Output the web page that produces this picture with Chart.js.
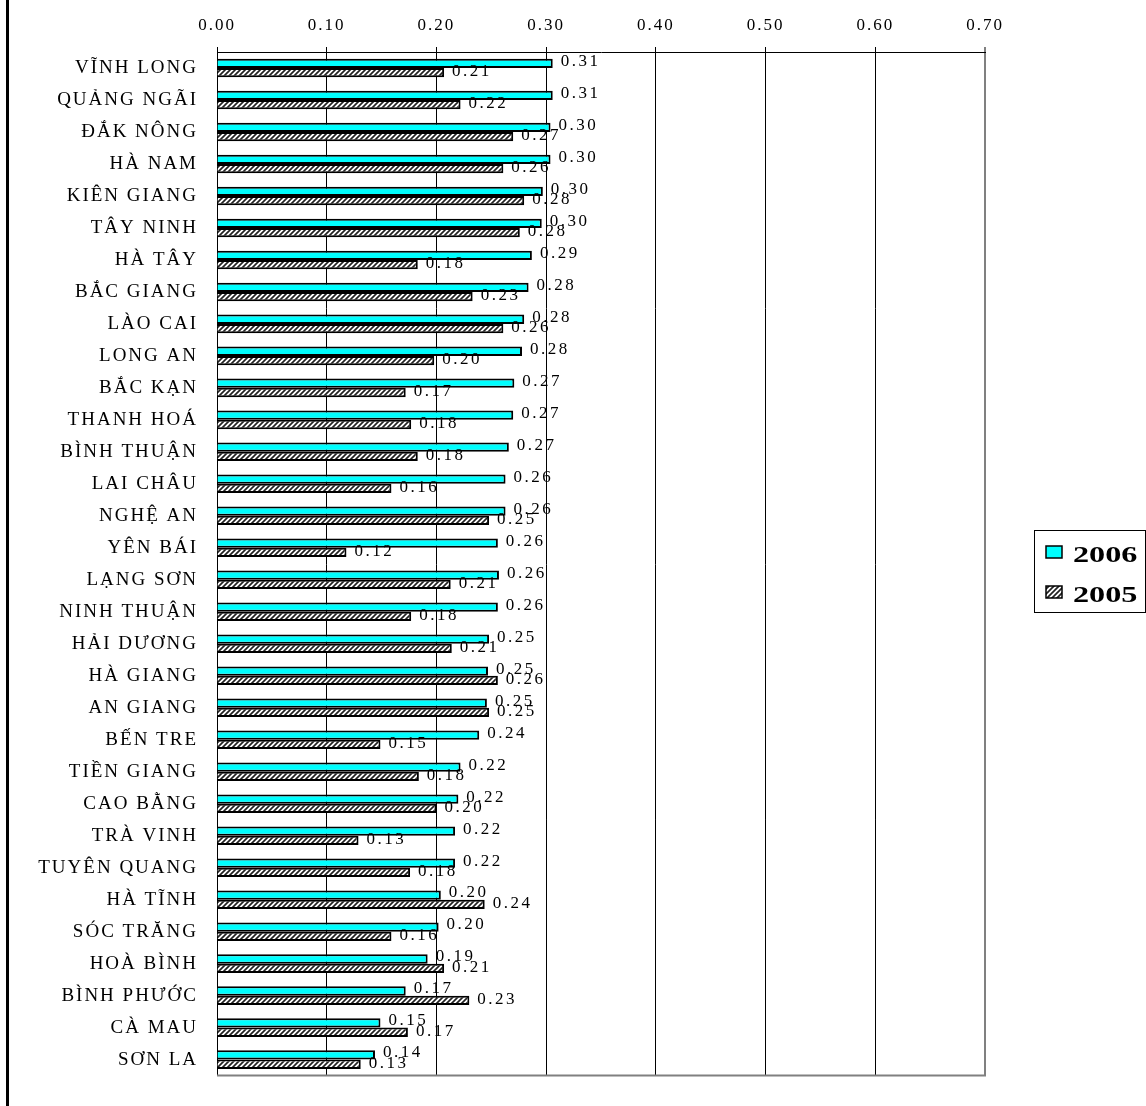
<!DOCTYPE html>
<html>
<head>
<meta charset="utf-8">
<title>Provinces 2005 - 2006</title>
<script src="https://cdn.jsdelivr.net/npm/chart.js@4/dist/chart.umd.min.js"></script>
<style>
  html, body { margin: 0; padding: 0; background: #fff; }
  canvas { display: block; }
</style>
</head>
<body>
<canvas id="myChart" width="1146" height="1106"></canvas>
<script>
const provinces = [
  'VĨNH LONG', 'QUẢNG NGÃI', 'ĐẮK NÔNG', 'HÀ NAM', 'KIÊN GIANG', 'TÂY NINH',
  'HÀ TÂY', 'BẮC GIANG', 'LÀO CAI', 'LONG AN', 'BẮC KẠN', 'THANH HOÁ',
  'BÌNH THUẬN', 'LAI CHÂU', 'NGHỆ AN', 'YÊN BÁI', 'LẠNG SƠN', 'NINH THUẬN',
  'HẢI DƯƠNG', 'HÀ GIANG', 'AN GIANG', 'BẾN TRE', 'TIỀN GIANG', 'CAO BẰNG',
  'TRÀ VINH', 'TUYÊN QUANG', 'HÀ TĨNH', 'SÓC TRĂNG', 'HOÀ BÌNH', 'BÌNH PHƯỚC',
  'CÀ MAU', 'SƠN LA'
];

const values2006 = [
  0.306, 0.306, 0.304, 0.304, 0.297, 0.296,
  0.287, 0.284, 0.280, 0.278, 0.271, 0.270,
  0.266, 0.263, 0.263, 0.256, 0.257, 0.256,
  0.248, 0.247, 0.246, 0.239, 0.222, 0.220,
  0.217, 0.217, 0.204, 0.202, 0.192, 0.172,
  0.149, 0.144
];

const values2005 = [
  0.207, 0.222, 0.270, 0.261, 0.280, 0.276,
  0.183, 0.233, 0.261, 0.198, 0.172, 0.177,
  0.183, 0.159, 0.248, 0.118, 0.213, 0.177,
  0.214, 0.256, 0.248, 0.149, 0.184, 0.200,
  0.129, 0.176, 0.244, 0.159, 0.207, 0.230,
  0.174, 0.131
];

const seriesNames = ['2006', '2005'];
const xTicks = [0, 0.1, 0.2, 0.3, 0.4, 0.5, 0.6, 0.7];

const SERIF = "'Liberation Serif', 'Times New Roman', serif";

// diagonal hatch used for the 2005 bars
function makeHatch() {
  const c = document.createElement('canvas');
  c.width = 5;
  c.height = 5;
  const g = c.getContext('2d');
  g.fillStyle = '#fff';
  g.fillRect(0, 0, 5, 5);
  g.strokeStyle = '#222';
  g.lineWidth = 1.7;
  g.beginPath();
  g.moveTo(-1, 6); g.lineTo(6, -1);
  g.moveTo(-1, 1); g.lineTo(1, -1);
  g.moveTo(4, 6); g.lineTo(6, 4);
  g.stroke();
  return g.createPattern(c, 'repeat');
}

const canvas = document.getElementById('myChart');
const hatch = makeHatch();

// wider letter spacing for the axis text
const spacingPlugin = {
  id: 'spacing',
  beforeLayout(chart) { chart.ctx.letterSpacing = '2px'; },
  beforeDraw(chart) { chart.ctx.letterSpacing = '2px'; }
};

// value labels at the end of each bar
const valueLabels = {
  id: 'valueLabels',
  afterDatasetsDraw(chart) {
    const ctx = chart.ctx;
    ctx.save();
    ctx.letterSpacing = '2.5px';
    ctx.font = '17px ' + SERIF;
    ctx.fillStyle = '#000';
    ctx.textAlign = 'left';
    ctx.textBaseline = 'middle';
    chart.data.datasets.forEach((ds, di) => {
      const meta = chart.getDatasetMeta(di);
      meta.data.forEach((bar, i) => {
        const dy = di === 0 ? -2 : -1;
        ctx.fillText(ds.data[i].toFixed(2), bar.x + 8, bar.y + dy);
      });
    });
    ctx.restore();
  }
};

// frame pieces and the legend box on the right
const framePlugin = {
  id: 'frame',
  afterDraw(chart) {
    const ctx = chart.ctx;
    const area = chart.chartArea;
    ctx.save();
    ctx.letterSpacing = '0px';

    ctx.fillStyle = '#000';
    ctx.fillRect(6, 0, 3, chart.height);

    ctx.strokeStyle = '#808080';
    ctx.lineWidth = 2;
    ctx.beginPath();
    ctx.moveTo(area.left, area.bottom);
    ctx.lineTo(area.right + 1, area.bottom);
    ctx.stroke();

    // legend
    ctx.strokeStyle = '#000';
    ctx.lineWidth = 1;
    ctx.strokeRect(1034.5, 530.5, 111, 82);

    const rows = [
      { sw: 546, base: 562 },
      { sw: 586, base: 602 }
    ];
    chart.data.datasets.forEach((ds, i) => {
      const r = rows[i];
      ctx.fillStyle = ds.backgroundColor;
      ctx.fillRect(1046, r.sw, 16, 12);
      ctx.strokeStyle = '#000';
      ctx.lineWidth = 1.5;
      ctx.strokeRect(1046, r.sw, 16, 12);

      ctx.save();
      ctx.translate(1073, r.base);
      ctx.scale(1.4, 1);
      ctx.fillStyle = '#000';
      ctx.font = 'bold 23px ' + SERIF;
      ctx.textAlign = 'left';
      ctx.textBaseline = 'alphabetic';
      ctx.fillText(ds.label, 0, 0);
      ctx.restore();
    });
    ctx.restore();
  }
};

new Chart(canvas, {
  type: 'bar',
  data: {
    labels: provinces,
    datasets: [
      {
        label: seriesNames[0],
        data: values2006,
        backgroundColor: '#00FFFF',
        borderColor: '#000',
        borderWidth: 2,
        categoryPercentage: 0.58,
        barPercentage: 1.0
      },
      {
        label: seriesNames[1],
        data: values2005,
        backgroundColor: hatch,
        borderColor: '#000',
        borderWidth: 2,
        categoryPercentage: 0.58,
        barPercentage: 1.0
      }
    ]
  },
  options: {
    indexAxis: 'y',
    responsive: false,
    animation: false,
    devicePixelRatio: 1,
    layout: {
      padding: { top: 0, right: 161, bottom: 14, left: 0 }
    },
    plugins: {
      legend: { display: false },
      tooltip: { enabled: false }
    },
    scales: {
      x: {
        position: 'top',
        min: xTicks[0],
        max: xTicks[xTicks.length - 1],
        afterFit(scale) { scale.height = 52; },
        afterBuildTicks(scale) {
          scale.ticks = xTicks.map(v => ({ value: v }));
        },
        ticks: {
          color: '#000',
          padding: 11,
          font: { family: SERIF, size: 17 },
          callback: v => Number(v).toFixed(2)
        },
        grid: {
          color: c => (c.tick && c.tick.value === 0.7 ? '#808080' : '#000'),
          lineWidth: c => (c.tick && c.tick.value === 0.7 ? 2 : 1),
          tickLength: 5
        },
        border: { display: true, color: '#000', width: 1 }
      },
      y: {
        afterFit(scale) { scale.width = 217; },
        ticks: {
          color: '#000',
          padding: 19,
          font: { family: SERIF, size: 19 }
        },
        grid: { display: false, drawTicks: false },
        border: { display: true, color: '#000', width: 1 }
      }
    }
  },
  plugins: [spacingPlugin, valueLabels, framePlugin]
});
</script>
</body>
</html>
